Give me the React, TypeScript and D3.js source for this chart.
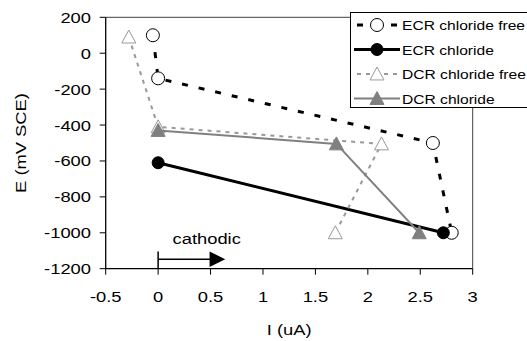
import React from "react";
import * as d3 from "d3";

const ecrFreeX = [-0.05, 0, 2.62, 2.8];
const ecrFreeY = [100, -140, -500, -1000];
const ecrClX = [0, 2.72];
const ecrClY = [-610, -1000];
const dcrFreeX = [-0.28, 0, 2.13, 1.69];
const dcrFreeY = [90, -410, -505, -1000];
const dcrClX = [0, 1.7, 2.49];
const dcrClY = [-430, -505, -1000];

const xTicks = [-0.5, 0, 0.5, 1, 1.5, 2, 2.5, 3];
const yTicks = [200, 0, -200, -400, -600, -800, -1000, -1200];
const legendLabels = ["ECR chloride free", "ECR chloride", "DCR chloride free", "DCR chloride"];
const annotation = { text: "cathodic", x0: 0, x1: 0.5, xTip: 0.64, y: -1147 };

const W = 527, H = 341;
const FONT = "'Liberation Sans', Arial, sans-serif";
const SX = 1.2;

const x = d3.scaleLinear().domain([-0.5, 3]).range([105.7, 472.7]);
const y = d3.scaleLinear().domain([-1200, 200]).range([268.7, 17.3]);

const zip = (xs: number[], ys: number[]) => xs.map((v, i) => [v, ys[i]] as [number, number]);
const line = d3.line<[number, number]>().x(d => x(d[0])).y(d => y(d[1]));

const T = ({ x: tx, y: ty, size, anchor = "start", rotate = 0, children, fill = "#000", sx = SX }: any) => (
  <text
    transform={`translate(${tx},${ty})${rotate ? ` rotate(${rotate})` : ""} scale(${sx},1)`}
    fontSize={size}
    fontFamily={FONT}
    textAnchor={anchor}
    fill={fill}
  >
    {children}
  </text>
);

const tri = (cx: number, cy: number, r = 7) =>
  `M${cx},${cy - r}L${cx + r},${cy + r * 0.85}L${cx - r},${cy + r * 0.85}Z`;

const series = [
  { xs: ecrFreeX, ys: ecrFreeY, stroke: "#000", width: 3, dash: "6,11", marker: "openCircle" },
  { xs: ecrClX, ys: ecrClY, stroke: "#000", width: 3, dash: undefined, marker: "filledCircle" },
  { xs: dcrFreeX, ys: dcrFreeY, stroke: "#999", width: 2, dash: "4,5", marker: "openTri" },
  { xs: dcrClX, ys: dcrClY, stroke: "#808080", width: 2, dash: undefined, marker: "filledTri" },
];

const Marker = ({ type, cx, cy }: any) => {
  if (type === "openCircle") return <circle cx={cx} cy={cy} r={6.5} fill="#fff" stroke="#000" strokeWidth={1} />;
  if (type === "filledCircle") return <circle cx={cx} cy={cy} r={6} fill="#000" stroke="#000" strokeWidth={1} />;
  if (type === "openTri") return <path d={tri(cx, cy)} fill="#fff" stroke="#999" strokeWidth={1} />;
  return <path d={tri(cx, cy)} fill="#808080" stroke="#808080" strokeWidth={1} />;
};

export default function App() {
  const [x0, x1] = x.range();
  const [y0, y1] = y.range();
  const legendTop = 12;
  const rowH = 24.5;
  return (
    <svg width={W} height={H} style={{ position: "absolute", left: 0, top: 0, background: "#fff" }}>
      <rect x={0} y={0} width={W} height={H} fill="#fff" />
      {/* frame */}
      <line x1={x0} x2={x1} y1={y1} y2={y1} stroke="#404040" strokeWidth={1} />
      <line x1={x1} x2={x1} y1={y1} y2={y0} stroke="#404040" strokeWidth={1} />
      <line x1={x0} x2={x0} y1={y1} y2={y0} stroke="#000" strokeWidth={1.3} />
      <line x1={x0} x2={x1} y1={y0} y2={y0} stroke="#000" strokeWidth={1.3} />
      {/* y ticks */}
      {yTicks.map(t => (
        <g key={"y" + t}>
          <line x1={x0 - 6} x2={x0} y1={y(t)} y2={y(t)} stroke="#000" strokeWidth={1} />
          <T x={91} y={y(t) + 5.5} size={15.3} anchor="end">{String(t)}</T>
        </g>
      ))}
      {/* x ticks */}
      {xTicks.map(t => (
        <g key={"x" + t}>
          <line x1={x(t)} x2={x(t)} y1={y0} y2={y0 + 6} stroke="#000" strokeWidth={1} />
          <T x={x(t)} y={302} size={15.3} anchor="middle">{String(t)}</T>
        </g>
      ))}
      <T x={(x0 + x1) / 2} y={335} size={15.3} anchor="middle">I (uA)</T>
      <T x={26} y={(y0 + y1) / 2} size={15.3} anchor="middle" rotate={-90}>E (mV SCE)</T>
      {/* annotation */}
      <T x={(x(annotation.x0) + x(annotation.xTip)) / 2 + 15} y={243.5} size={15.3} anchor="middle">{annotation.text}</T>
      <line x1={x(annotation.x0)} x2={x(annotation.x0)} y1={251.5} y2={y0} stroke="#000" strokeWidth={1.5} />
      <line x1={x(annotation.x0)} x2={x(annotation.x1)} y1={y(annotation.y)} y2={y(annotation.y)} stroke="#000" strokeWidth={1.5} />
      <path
        d={`M${x(annotation.xTip)},${y(annotation.y)}L${x(annotation.x1) - 1},${y(annotation.y) - 7.7}L${x(annotation.x1) - 1},${y(annotation.y) + 7.7}Z`}
        fill="#000"
      />
      {/* series */}
      {series.map((s, i) => (
        <g key={"s" + i}>
          <path d={line(zip(s.xs, s.ys)) || ""} fill="none" stroke={s.stroke} strokeWidth={s.width} strokeDasharray={s.dash} />
          {s.xs.map((v, j) => (
            <Marker key={j} type={s.marker} cx={x(v)} cy={y(s.ys[j])} />
          ))}
        </g>
      ))}
      {/* legend */}
      <rect x={350.5} y={legendTop + 0.5} width={200} height={95} fill="#fff" stroke="#000" strokeWidth={1} />
      {series.map((s, i) => {
        const cy = legendTop + 13 + i * rowH;
        return (
          <g key={"l" + i}>
            <line x1={354} x2={400} y1={cy} y2={cy} stroke={s.stroke} strokeWidth={s.width}
              strokeDasharray={s.dash} strokeDashoffset={s.dash ? -3 : 0} />
            <Marker type={s.marker} cx={377} cy={cy} />
            <T x={402} y={cy + 5} size={13} sx={1.2}>{legendLabels[i]}</T>
          </g>
        );
      })}
    </svg>
  );
}
